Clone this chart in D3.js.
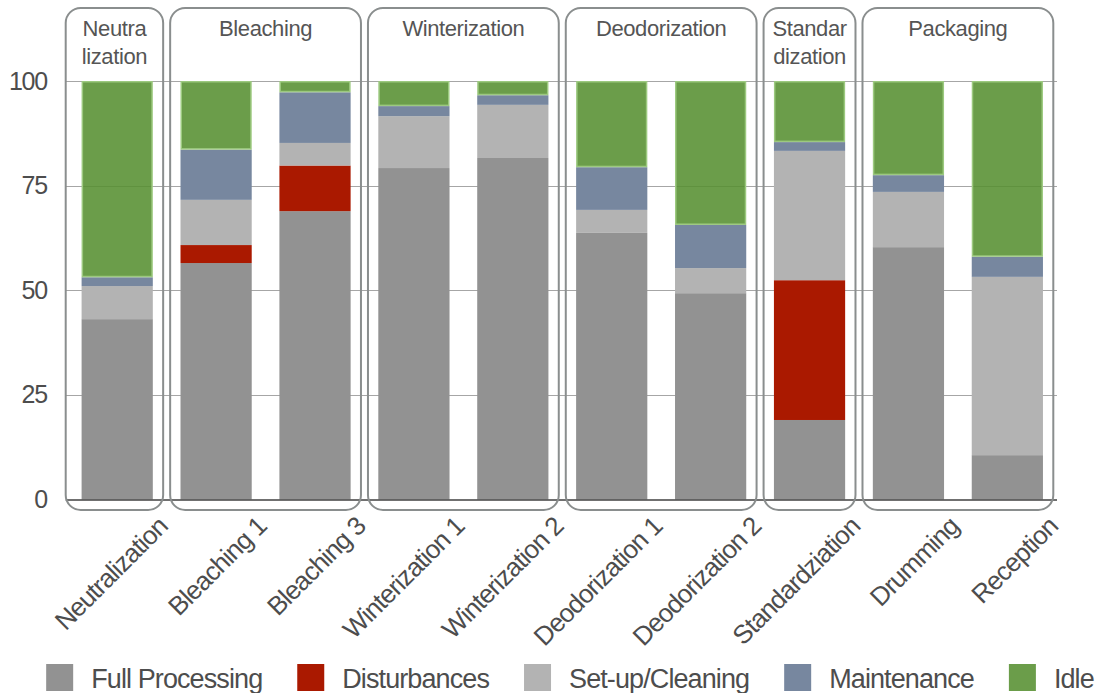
<!DOCTYPE html>
<html>
<head>
<meta charset="utf-8">
<script src="https://cdn.jsdelivr.net/npm/d3@7"></script>
<style>
  html, body { margin: 0; padding: 0; background: #fff; }
  svg { display: block; font-family: "Liberation Sans", Arial, sans-serif; }
</style>
</head>
<body>
<svg id="chart" width="1104" height="693"></svg>
<script>
// Processing units, in plant order
const units = ["Neutralization", "Bleaching 1", "Bleaching 3", "Winterization 1", "Winterization 2",
               "Deodorization 1", "Deodorization 2", "Standardziation", "Drumming", "Reception"];

// Share of time (%) per state for each unit
const fullProcessing = [43.1, 56.5, 68.9, 79.2, 81.6, 63.7, 49.3, 19.0, 60.3, 10.6];
const disturbances   = [ 0.0,  4.3, 10.9,  0.0,  0.0,  0.0,  0.0, 33.4,  0.0,  0.0];
const setupCleaning  = [ 7.9, 10.8,  5.4, 12.4, 12.7,  5.5,  6.0, 30.9, 13.2, 42.6];
const maintenance    = [ 2.1, 12.0, 12.1,  2.4,  2.3, 10.2, 10.3,  2.1,  4.0,  4.8];
const idle           = [46.9, 16.4,  2.7,  6.0,  3.4, 20.6, 34.4, 14.6, 22.5, 42.0];

const seriesNames = ["Full Processing", "Disturbances", "Set-up/Cleaning", "Maintenance", "Idle"];
const seriesColors = ["#929292", "#aa1900", "#b3b3b3", "#77879f", "#578f31"];

// Process stages grouping the units
const stageNames = [["Neutra", "lization"], ["Bleaching"], ["Winterization"], ["Deodorization"], ["Standar", "dization"], ["Packaging"]];
const stageUnits = [["Neutralization"], ["Bleaching 1", "Bleaching 3"], ["Winterization 1", "Winterization 2"],
                    ["Deodorization 1", "Deodorization 2"], ["Standardziation"], ["Drumming", "Reception"]];

const yTicks = [0, 25, 50, 75, 100];

const svg = d3.select("#chart");
const textColor = "#4d4d4d";
const plotLeft = 65.7, plotRight = 1057;

const x = d3.scaleBand().domain(units).range([67.75, 1056.8]).paddingInner(0.28).paddingOuter(0.14);
const y = d3.scaleLinear().domain([0, 100]).range([499.5, 81]);

// Gridlines
svg.append("g").selectAll("line").data(yTicks.filter(t => t > 0)).join("line")
  .attr("x1", plotLeft).attr("x2", plotRight)
  .attr("y1", d => Math.round(y(d)) + 0.5).attr("y2", d => Math.round(y(d)) + 0.5)
  .attr("stroke", "#a6a6a6").attr("stroke-width", 1.2);

// Y axis labels
const yAxis = svg.append("g").attr("transform", "translate(47,0)")
  .call(d3.axisLeft(y).tickValues(yTicks).tickSize(0).tickPadding(0));
yAxis.select(".domain").remove();
yAxis.selectAll("text")
  .attr("font-size", 25).attr("fill", textColor).attr("letter-spacing", -1.2)
  .attr("font-family", "'Liberation Sans', Arial, sans-serif");

// Stacked bars
const rows = units.map((u, i) => ({
  unit: u,
  "Full Processing": fullProcessing[i],
  "Disturbances": disturbances[i],
  "Set-up/Cleaning": setupCleaning[i],
  "Maintenance": maintenance[i],
  "Idle": idle[i]
}));
const stacked = d3.stack().keys(seriesNames)(rows);

const barLayer = svg.append("g");
stacked.forEach((layer, si) => {
  const isIdle = seriesNames[si] === "Idle";
  barLayer.append("g").selectAll("rect").data(layer.filter(d => d[1] - d[0] > 0)).join("rect")
    .attr("x", d => x(d.data.unit) + (isIdle ? 0.75 : 0))
    .attr("width", x.bandwidth() - (isIdle ? 1.5 : 0))
    .attr("y", d => y(d[1]) + (isIdle ? 0.75 : 0))
    .attr("height", d => y(d[0]) - y(d[1]) - (isIdle ? 1.5 : 0))
    .attr("fill", seriesColors[si])
    .attr("fill-opacity", isIdle ? 0.88 : 1)
    .attr("stroke", isIdle ? "#9cc97f" : "none")
    .attr("stroke-width", isIdle ? 1.5 : 0);
});

// Baseline
svg.append("line").attr("x1", plotLeft).attr("x2", plotRight)
  .attr("y1", y(0) + 0.5).attr("y2", y(0) + 0.5)
  .attr("stroke", "#404040").attr("stroke-width", 1.3);

// Stage boxes with titles
const halfGap = x.step() * x.paddingInner() / 2;
const inset = 3.5;
const boxTop = 8, boxBottom = 510;
const stageG = svg.append("g");
stageUnits.forEach((list, gi) => {
  const x0 = gi === 0 ? plotLeft : x(list[0]) - halfGap + inset;
  const x1 = x(list[list.length - 1]) + x.bandwidth() + halfGap - inset;
  stageG.append("rect")
    .attr("x", x0).attr("y", boxTop)
    .attr("width", x1 - x0).attr("height", boxBottom - boxTop)
    .attr("rx", 15).attr("ry", 15)
    .attr("fill", "none").attr("stroke", "#8a8e8e").attr("stroke-width", 2);
  const t = stageG.append("text")
    .attr("x", (x0 + x1) / 2).attr("y", 36)
    .attr("text-anchor", "middle").attr("font-size", 22)
    .attr("letter-spacing", -0.4).attr("fill", "#555");
  stageNames[gi].forEach((line, li) => {
    t.append("tspan").attr("x", (x0 + x1) / 2).attr("dy", li === 0 ? 0 : 28).text(line);
  });
});

// Rotated category labels
svg.append("g").selectAll("text").data(units).join("text")
  .attr("transform", d => `translate(${x(d) + x.bandwidth() / 2 + 52},${528}) rotate(-45)`)
  .attr("text-anchor", "end")
  .attr("font-size", 26).attr("letter-spacing", -0.9)
  .attr("fill", textColor)
  .text(d => d);

// Legend
const legend = svg.append("g");
const items = legend.selectAll("g").data(seriesNames).join("g");
items.append("rect").attr("width", 27).attr("height", 27).attr("y", 664)
  .attr("fill", (d, i) => seriesColors[i])
  .attr("fill-opacity", (d, i) => d === "Idle" ? 0.88 : 1);
items.append("text").attr("x", 45).attr("y", 688)
  .attr("font-size", 27).attr("letter-spacing", -0.9).attr("fill", textColor)
  .text(d => d);
const widths = [];
items.each(function () {
  widths.push(45 + d3.select(this).select("text").node().getComputedTextLength());
});
const gap = 35;
const total = d3.sum(widths) + gap * (widths.length - 1);
let start = 570 - total / 2;
items.attr("transform", (d, i) => {
  const tx = start;
  start += widths[i] + gap;
  return `translate(${tx},0)`;
});
</script>
</body>
</html>
